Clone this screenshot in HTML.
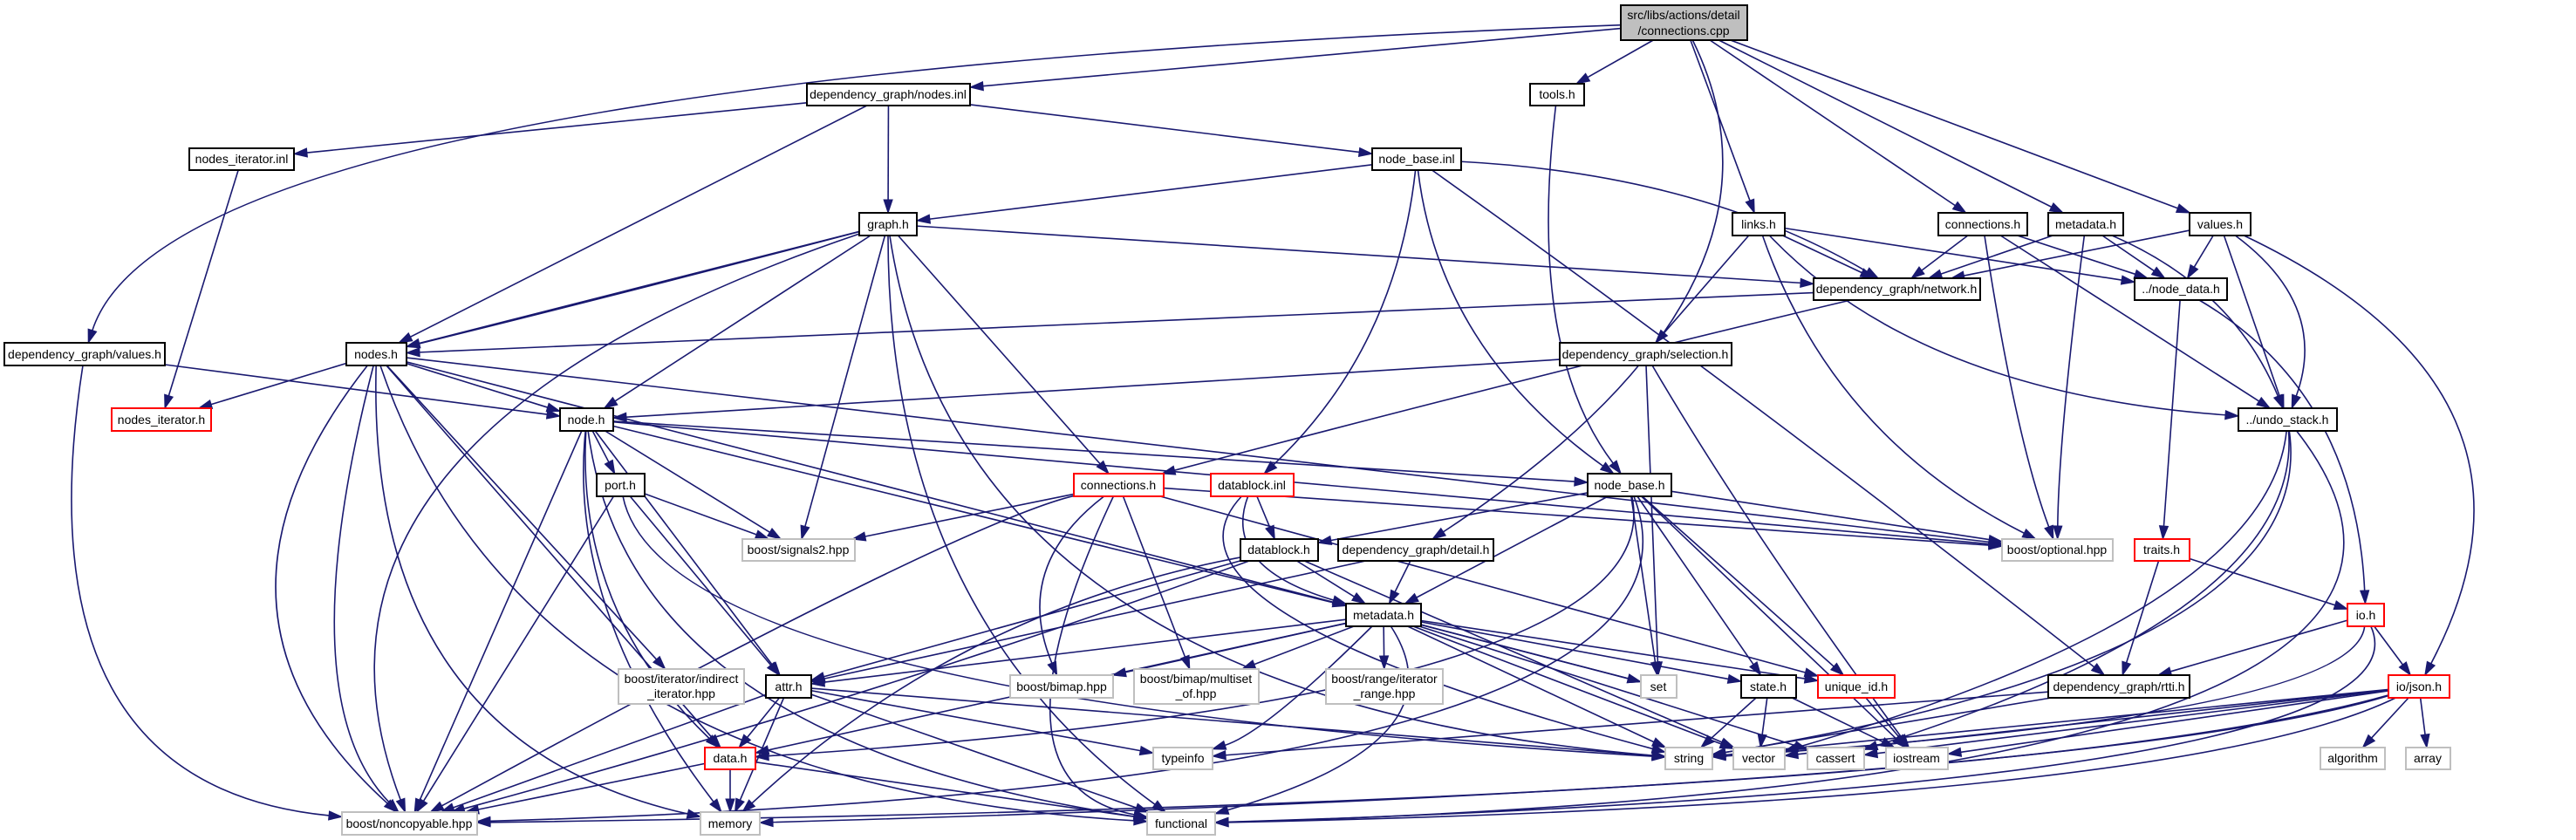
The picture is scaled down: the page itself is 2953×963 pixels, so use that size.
<!DOCTYPE html>
<html><head><meta charset="utf-8">
<style>
html,body{margin:0;padding:0;background:#fff;}
svg{display:block;}
text{font-family:"Liberation Sans",Arial,sans-serif;font-size:14px;fill:#000;text-anchor:middle;}
.b{fill:#fff;stroke:#000;stroke-width:2;}
.r{fill:#fff;stroke:#ff0000;stroke-width:2;}
.g{fill:#fff;stroke:#bfbfbf;stroke-width:2;}
.root{fill:#bfbfbf;stroke:#000;stroke-width:2;}
.e{fill:none;stroke:#191970;stroke-width:1.6;}
.a{fill:#191970;stroke:#191970;stroke-width:1;}
</style></head><body>
<svg id="s" width="2953" height="963" viewBox="0 0 2953 963" xmlns="http://www.w3.org/2000/svg">
<g id="edges"></g>
<g id="nodes">
<rect id="root" class="root" x="1858" y="6" width="145" height="40"/><text x="1930" y="22">src/libs/actions/detail</text><text x="1930" y="40">/connections.cpp</text>
<rect id="nodesinl" class="b" x="925" y="96" width="187" height="25"/><text x="1018" y="113">dependency_graph/nodes.inl</text>
<rect id="tools" class="b" x="1754" y="96" width="62" height="25"/><text x="1785" y="113">tools.h</text>
<rect id="nitinl" class="b" x="217" y="170" width="120" height="25"/><text x="277" y="187">nodes_iterator.inl</text>
<rect id="nbinl" class="b" x="1573" y="170" width="102" height="25"/><text x="1624" y="187">node_base.inl</text>
<rect id="graph" class="b" x="985" y="244" width="66" height="26"/><text x="1018" y="262">graph.h</text>
<rect id="links" class="b" x="1986" y="244" width="60" height="26"/><text x="2016" y="262">links.h</text>
<rect id="connh" class="b" x="2222" y="244" width="102" height="26"/><text x="2273" y="262">connections.h</text>
<rect id="metah" class="b" x="2348" y="244" width="86" height="26"/><text x="2391" y="262">metadata.h</text>
<rect id="valuesh" class="b" x="2510" y="244" width="70" height="26"/><text x="2545" y="262">values.h</text>
<rect id="network" class="b" x="2079" y="319" width="191" height="25"/><text x="2174" y="336">dependency_graph/network.h</text>
<rect id="nodedata" class="b" x="2447" y="319" width="106" height="25"/><text x="2500" y="336">../node_data.h</text>
<rect id="dgvalues" class="b" x="5" y="393" width="184" height="26"/><text x="97" y="411">dependency_graph/values.h</text>
<rect id="nodesh" class="b" x="397" y="393" width="69" height="26"/><text x="431" y="411">nodes.h</text>
<rect id="selection" class="b" x="1788" y="393" width="197" height="26"/><text x="1886" y="411">dependency_graph/selection.h</text>
<rect id="nith" class="r" x="128" y="468" width="114" height="26"/><text x="185" y="486">nodes_iterator.h</text>
<rect id="nodeh" class="b" x="642" y="468" width="61" height="26"/><text x="672" y="486">node.h</text>
<rect id="undo" class="b" x="2566" y="468" width="113" height="26"/><text x="2622" y="486">../undo_stack.h</text>
<rect id="porth" class="b" x="684" y="543" width="55" height="26"/><text x="711" y="561">port.h</text>
<rect id="connred" class="r" x="1231" y="543" width="103" height="26"/><text x="1282" y="561">connections.h</text>
<rect id="dbinl" class="r" x="1388" y="543" width="95" height="26"/><text x="1435" y="561">datablock.inl</text>
<rect id="nbh" class="b" x="1820" y="543" width="96" height="26"/><text x="1868" y="561">node_base.h</text>
<rect id="signals" class="g" x="851" y="618" width="129" height="25"/><text x="915" y="635">boost/signals2.hpp</text>
<rect id="dbh" class="b" x="1422" y="618" width="89" height="25"/><text x="1466" y="635">datablock.h</text>
<rect id="detail" class="b" x="1534" y="618" width="178" height="25"/><text x="1623" y="635">dependency_graph/detail.h</text>
<rect id="optional" class="g" x="2295" y="618" width="127" height="25"/><text x="2358" y="635">boost/optional.hpp</text>
<rect id="traits" class="r" x="2447" y="618" width="63" height="25"/><text x="2478" y="635">traits.h</text>
<rect id="metadata" class="b" x="1543" y="692" width="86" height="26"/><text x="1586" y="710">metadata.h</text>
<rect id="ioh" class="r" x="2691" y="692" width="42" height="26"/><text x="2712" y="710">io.h</text>
<rect id="indirect" class="g" x="709" y="767" width="144" height="40"/><text x="781" y="783">boost/iterator/indirect</text><text x="781" y="800">_iterator.hpp</text>
<rect id="bimap" class="g" x="1158" y="774" width="118" height="26"/><text x="1217" y="792">boost/bimap.hpp</text>
<rect id="multiset" class="g" x="1300" y="767" width="143" height="40"/><text x="1371" y="783">boost/bimap/multiset</text><text x="1371" y="800">_of.hpp</text>
<rect id="range" class="g" x="1520" y="767" width="134" height="40"/><text x="1587" y="783">boost/range/iterator</text><text x="1587" y="800">_range.hpp</text>
<rect id="attr" class="b" x="878" y="774" width="52" height="26"/><text x="904" y="792">attr.h</text>
<rect id="set" class="g" x="1881" y="774" width="41" height="26"/><text x="1901" y="792">set</text>
<rect id="state" class="b" x="1996" y="774" width="63" height="26"/><text x="2027" y="792">state.h</text>
<rect id="uid" class="r" x="2084" y="774" width="88" height="26"/><text x="2128" y="792">unique_id.h</text>
<rect id="rtti" class="b" x="2348" y="774" width="162" height="26"/><text x="2429" y="792">dependency_graph/rtti.h</text>
<rect id="json" class="r" x="2738" y="774" width="70" height="26"/><text x="2773" y="792">io/json.h</text>
<rect id="data" class="r" x="808" y="857" width="58" height="25"/><text x="837" y="874">data.h</text>
<rect id="typeinfo" class="g" x="1322" y="857" width="68" height="25"/><text x="1356" y="874">typeinfo</text>
<rect id="string" class="g" x="1909" y="857" width="54" height="25"/><text x="1936" y="874">string</text>
<rect id="vector" class="g" x="1987" y="857" width="59" height="25"/><text x="2016" y="874">vector</text>
<rect id="cassert" class="g" x="2072" y="857" width="65" height="25"/><text x="2104" y="874">cassert</text>
<rect id="iostream" class="g" x="2162" y="857" width="71" height="25"/><text x="2197" y="874">iostream</text>
<rect id="algorithm" class="g" x="2660" y="857" width="74" height="25"/><text x="2697" y="874">algorithm</text>
<rect id="array" class="g" x="2758" y="857" width="51" height="25"/><text x="2783" y="874">array</text>
<rect id="noncopy" class="g" x="392" y="931" width="155" height="26"/><text x="469" y="949">boost/noncopyable.hpp</text>
<rect id="memory" class="g" x="803" y="931" width="68" height="26"/><text x="837" y="949">memory</text>
<rect id="functional" class="g" x="1315" y="931" width="78" height="26"/><text x="1354" y="949">functional</text>
</g>
</svg>
<script>
(function(){
var E=[
["root","dgvalues",[200,90]],["root","nodesinl"],["root","tools"],["root","links"],["root","connh"],["root","metah"],["root","valuesh"],["root","detail",[2080,330]],
["nodesinl","nitinl"],["nodesinl","graph"],["nodesinl","nbinl"],["nodesinl","nodesh"],
["nitinl","nith"],["tools","nbh",[1750,400]],
["nbinl","graph"],["nbinl","network",[1950,200]],["nbinl","dbinl",[1600,400]],["nbinl","nbh",[1650,400]],["nbinl","rtti",[2000,450]],
["graph","nodesh"],["graph","nodesh",[700,340]],["graph","nodeh"],["graph","noncopy",[300,500]],["graph","signals"],["graph","functional",[1018,700]],["graph","string",[1100,800]],["graph","connred"],["graph","network"],
["links","network"],["links","nodedata"],["links","selection"],["links","optional",[2100,500]],["links","undo",[2200,450]],
["connh","network"],["connh","nodedata"],["connh","undo"],["connh","optional",[2310,500]],
["metah","network"],["metah","nodedata"],["metah","optional",[2360,500]],["metah","undo",[2560,330]],
["valuesh","network"],["valuesh","nodedata"],["valuesh","undo"],["valuesh","undo",[2670,350]],["valuesh","json",[2950,450]],
["network","nodesh"],["network","connred",[1800,420]],
["nodedata","traits"],["nodedata","ioh",[2700,450]],
["dgvalues","nodeh"],["dgvalues","noncopy",[20,900]],
["nodesh","nith"],["nodesh","nodeh"],["nodesh","noncopy",[200,700]],["nodesh","memory",[420,850]],["nodesh","data"],["nodesh","indirect"],["nodesh","set"],["nodesh","optional"],["nodesh","functional",[600,900]],["nodesh","noncopy",[330,800]],
["selection","nodeh"],["selection","set"],["selection","iostream",[2000,600]],
["nodeh","porth"],["nodeh","signals"],["nodeh","attr"],["nodeh","data",[660,700]],["nodeh","nbh"],["nodeh","metadata"],["nodeh","noncopy"],["nodeh","memory",[650,700]],["nodeh","optional"],["nodeh","functional",[720,850]],
["porth","signals"],["porth","attr"],["porth","noncopy"],["porth","string",[760,800]],
["connred","signals"],["connred","bimap",[1160,650]],["connred","multiset"],["connred","noncopy",[1100,600]],["connred","uid"],["connred","optional"],["connred","functional",[1120,900]],
["dbinl","dbh"],["dbinl","metadata",[1400,650]],["dbinl","string",[1300,700]],
["nbh","dbh"],["nbh","metadata"],["nbh","set"],["nbh","state"],["nbh","uid"],["nbh","optional"],["nbh","data",[1920,800]],["nbh","noncopy",[2000,900]],["nbh","iostream"],
["dbh","metadata"],["dbh","attr"],["dbh","memory",[1100,700]],["dbh","vector"],["dbh","noncopy",[1000,800]],
["detail","metadata"],["detail","attr"],
["metadata","attr"],["metadata","bimap"],["metadata","multiset"],["metadata","range"],["metadata","set"],["metadata","state"],["metadata","uid"],["metadata","data"],["metadata","string"],["metadata","vector"],["metadata","typeinfo",[1450,840]],["metadata","functional",[1680,850]],["metadata","cassert"],
["undo","vector",[2600,700]],["undo","cassert",[2640,700]],["undo","string",[2660,750]],["undo","functional",[2950,900]],
["traits","rtti"],["traits","ioh"],
["ioh","rtti"],["ioh","json"],["ioh","functional",[2800,900]],["ioh","string",[2700,820]],
["json","algorithm"],["json","array"],["json","string"],["json","vector"],["json","cassert"],["json","iostream"],["json","memory",[2400,900]],["json","noncopy",[2300,920]],["json","functional",[2500,920]],
["state","string"],["state","vector"],["state","iostream"],
["uid","iostream"],
["rtti","typeinfo"],["rtti","string"],
["attr","data"],["attr","memory"],["attr","noncopy"],["attr","typeinfo"],["attr","string"],["attr","functional"],
["data","memory"],["data","noncopy"],["data","functional"]
];
function B(id){var r=document.getElementById(id);var x=+r.getAttribute('x'),y=+r.getAttribute('y'),w=+r.getAttribute('width'),h=+r.getAttribute('height');return{x:x,y:y,w:w,h:h,cx:x+w/2,cy:y+h/2};}
function clip(b,tx,ty){var dx=tx-b.cx,dy=ty-b.cy;var t1=dx?Math.abs((b.w/2)/dx):1e9,t2=dy?Math.abs((b.h/2)/dy):1e9;var t=Math.min(t1,t2);return[b.cx+dx*t,b.cy+dy*t];}
var g=document.getElementById('edges'),NS='http://www.w3.org/2000/svg',out='';
E.forEach(function(e){
 var s=B(e[0]),t=B(e[1]),c=e[2];
 var ax=c?c[0]:s.cx, ay=c?c[1]:s.cy;
 var p0=clip(s,c?c[0]:t.cx,c?c[1]:t.cy);
 var p1=clip(t,ax,ay);
 var dx=p1[0]-ax,dy=p1[1]-ay,L=Math.sqrt(dx*dx+dy*dy)||1;dx/=L;dy/=L;
 var bx=p1[0]-dx*15,by=p1[1]-dy*15,nx=-dy*5,ny=dx*5;
 var d=c?('M'+p0[0]+','+p0[1]+' Q'+c[0]+','+c[1]+' '+bx+','+by):('M'+p0[0]+','+p0[1]+' L'+bx+','+by);
 out+='<path class="e" d="'+d+'"/>';
 out+='<polygon class="a" points="'+p1[0]+','+p1[1]+' '+(bx+nx)+','+(by+ny)+' '+(bx-nx)+','+(by-ny)+'"/>';
});
g.innerHTML=out;
})();
</script>
</body></html>
